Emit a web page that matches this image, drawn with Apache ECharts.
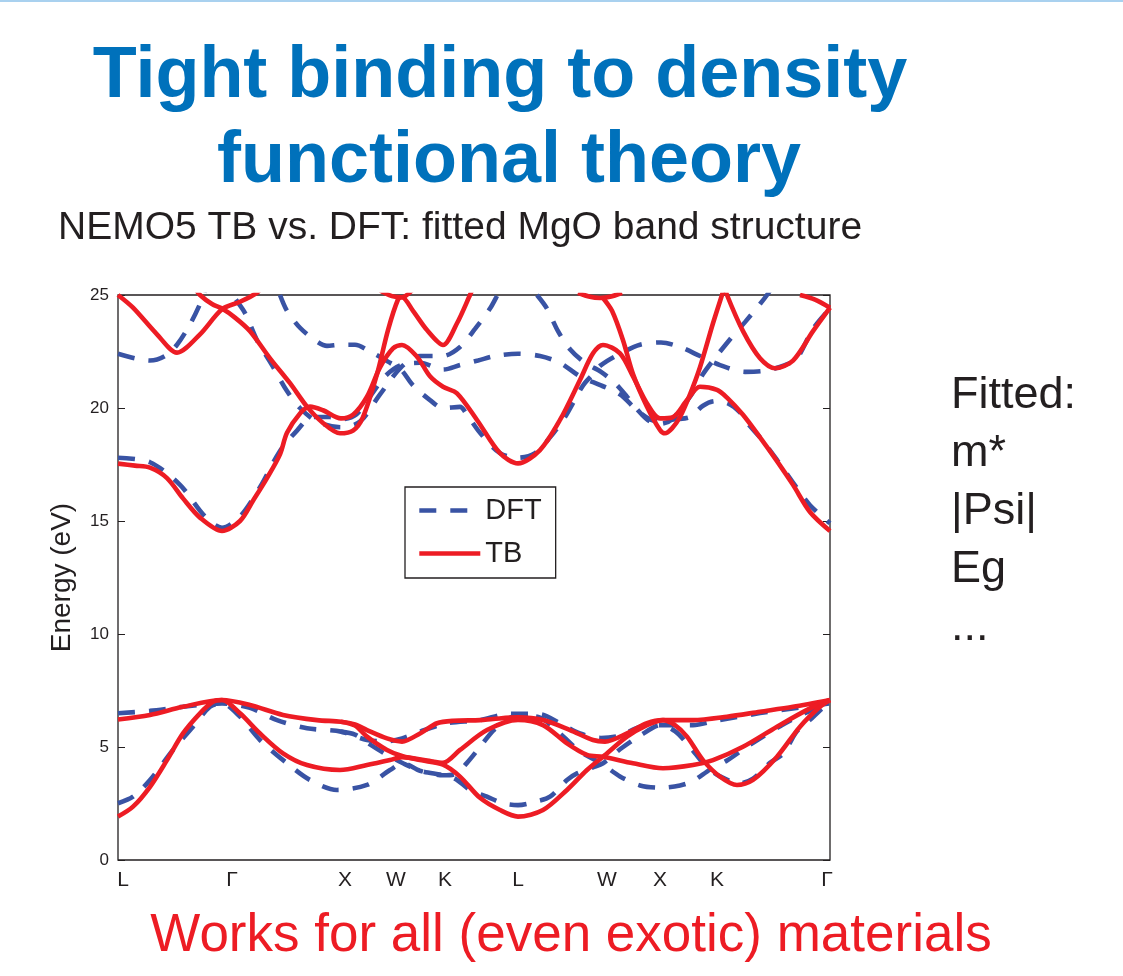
<!DOCTYPE html>
<html><head><meta charset="utf-8">
<script src="https://cdn.jsdelivr.net/npm/echarts@6/dist/echarts.min.js"></script>
<style>html,body{margin:0;padding:0;background:#fff;}#c{width:1123px;height:976px;}</style>
</head><body><div id="c"></div>
<script>
// ---- k-path tick labels (k in path units 0..712) ----
const kLabels = ['L', 'Γ', 'X', 'W', 'K', 'L', 'W', 'X', 'K', 'Γ'];
const kPos = [5, 114, 227, 278, 327, 400, 489, 542, 599, 709];
const kMax = 712;
const yTicks = [0, 5, 10, 15, 20, 25];

// ---- DFT bands (k, E in eV) ----
const dftC1 = [[0,17.8],[32,17.6],[62,16.6],[87,15.2],[104,14.7],[122,15.2],[142,16.5],[162,18.1],[179,19.0],[194,19.6],[212,19.6],[223,19.5],[238,19.7],[252,20.5],[267,21.4],[283,21.9],[302,22.0],[325,21.7],[342,21.9],[360,22.1],[377,22.3],[400,22.4],[422,22.3],[442,22.0],[462,21.4],[483,21.0],[502,20.6],[519,19.9],[532,19.5],[543,19.4],[557,19.5],[572,19.6],[585,20.1],[597,20.3],[610,20.2],[622,19.8],[632,19.2],[642,18.7],[659,17.7],[675,16.7],[692,15.7],[712,14.9]];
const dftC2 = [[162,25.0],[169,24.3],[182,23.55],[197,23.0],[209,22.75],[223,22.8],[237,22.8],[252,22.5],[272,22.0],[283,21.7],[295,21.0],[312,20.35],[325,20.0],[342,20.05],[349,19.7],[362,18.9],[382,18.0],[400,17.8],[417,18.0],[432,18.7],[447,19.6],[465,21.0],[475,21.5],[483,21.9],[502,22.4],[522,22.8],[543,22.9],[562,22.7],[582,22.3],[602,21.9],[627,21.6],[647,21.65],[667,21.9],[679,22.2],[695,23.5],[712,24.4]];
const dftC3 = [[104,26.0],[110,25.6],[115,25.0],[127,24.2],[139,23.0],[154,21.9],[169,20.75],[182,20.0],[199,19.4],[223,19.15],[242,19.4],[262,20.6],[283,21.8],[302,22.3],[325,22.3],[342,22.7],[357,23.5],[372,24.4],[382,25.2],[388,25.6]];
const dftC4 = [[419,25.0],[429,24.4],[440,23.4],[452,22.6],[467,22.0],[483,21.6],[497,21.1],[509,20.5],[522,19.8],[532,19.4],[543,19.3],[554,19.5],[572,20.5],[585,21.5],[595,22.1],[615,23.2],[627,23.8],[642,24.6],[649,25.0],[655,25.4]];
const dftC5 = [[0,22.4],[17,22.2],[32,22.1],[47,22.3],[59,22.8],[72,23.7],[82,24.6],[87,25.2],[90,25.6]];
const dftV1 = [[0,6.49],[32,6.6],[65,6.78],[104,6.93],[132,6.73],[159,6.19],[189,5.83],[223,5.68],[249,5.31],[267,5.25],[284,5.38],[302,5.68],[329,6.05],[362,6.19],[387,6.45],[400,6.47],[422,6.45],[442,6.05],[462,5.6],[483,5.4],[502,5.5],[522,5.9],[543,5.97],[575,5.97],[597,6.15],[642,6.5],[682,6.75],[712,6.93]];
const dftV2 = [[0,2.51],[15,2.8],[32,3.54],[55,4.87],[75,5.9],[92,6.78],[104,6.93],[122,6.34],[142,5.31],[169,4.28],[192,3.54],[219,3.1],[249,3.32],[272,3.98],[285,4.28],[302,3.95],[325,3.75],[337,3.8],[349,4.3],[362,5.0],[377,5.8],[400,6.4],[422,6.3],[442,5.6],[462,4.8],[483,4.28],[502,3.7],[522,3.3],[543,3.2],[562,3.3],[575,3.5],[592,4.0],[609,4.4],[632,5.1],[665,6.0],[692,6.6],[712,6.93]];
const dftV3 = [[223,5.68],[237,5.55],[249,5.2],[267,4.7],[285,4.28],[302,3.95],[325,3.75],[337,3.6],[352,3.1],[369,2.8],[385,2.51],[400,2.43],[419,2.6],[432,2.8],[449,3.54],[459,3.83],[475,4.1],[485,4.28],[502,4.9],[522,5.5],[543,5.97],[557,5.7],[572,5.0],[587,4.2],[602,3.7],[622,3.4],[635,3.6],[652,4.3],[665,4.7],[679,5.7],[692,6.2],[704,6.7],[712,6.93]];

// ---- TB bands (k, E in eV) ----
const tbC1 = [[0,17.54],[17,17.45],[32,17.36],[49,16.9],[65,16.0],[82,15.15],[104,14.56],[122,15.0],[135,15.9],[149,16.9],[162,17.95],[169,18.9],[182,19.76],[192,20.06],[205,19.9],[223,19.54],[235,19.7],[249,20.5],[262,21.8],[275,22.64],[284,22.79],[299,22.27],[312,21.4],[325,20.94],[339,20.65],[359,19.47],[382,18.0],[400,17.55],[422,18.14],[442,19.47],[462,21.24],[475,22.42],[485,22.79],[502,22.42],[515,21.4],[529,20.2],[542,19.54],[555,19.6],[569,20.35],[582,20.94],[599,20.8],[609,20.46],[625,19.7],[642,18.7],[659,17.65],[675,16.6],[692,15.4],[712,14.56]];
const tbC2 = [[77,25.3],[82,25.0],[94,24.6],[104,24.4],[117,24.0],[132,23.4],[152,22.2],[172,21.1],[189,20.06],[205,19.34],[222,18.88],[235,19.0],[245,19.6],[259,21.5],[270,23.45],[280,24.8],[284,24.9],[295,24.3],[309,23.45],[325,22.79],[339,23.75],[352,25.0],[356,25.4]];
const tbC3 = [[0,25.0],[15,24.44],[39,23.26],[59,22.45],[82,23.26],[104,24.37],[122,24.7],[139,25.1],[145,25.4]];
const tbC4 = [[262,25.2],[274,24.95],[284,24.9],[294,25.2]];
const tbC5 = [[460,25.1],[472,24.92],[482,24.87],[492,24.92],[504,25.1]];
const tbC6 = [[485,24.87],[494,24.3],[505,23.0],[515,21.5],[529,20.06],[542,19.03],[547,18.88],[554,19.1],[562,19.6],[572,20.6],[582,21.8],[595,23.75],[604,25.0],[607,25.4]];
const tbC7 = [[605,25.6],[609,25.0],[625,23.4],[642,22.2],[657,21.76],[675,22.1],[695,23.4],[712,24.44]];
const tbC8 = [[682,25.0],[697,24.8],[712,24.44]];
const tbV1 = [[0,6.22],[32,6.42],[65,6.78],[104,7.08],[132,6.86],[165,6.42],[199,6.19],[223,6.12],[237,6.0],[249,5.75],[269,5.38],[284,5.24],[302,5.6],[319,6.05],[335,6.16],[362,6.19],[375,6.24],[400,6.31],[425,6.19],[452,5.75],[475,5.31],[487,5.24],[509,5.6],[529,6.05],[545,6.19],[575,6.19],[609,6.34],[642,6.56],[675,6.78],[712,7.08]];
const tbV2 = [[0,1.92],[15,2.36],[32,3.24],[49,4.42],[65,5.6],[82,6.49],[95,7.0],[104,7.08],[122,6.49],[142,5.6],[165,4.72],[189,4.2],[222,3.98],[249,4.2],[272,4.42],[284,4.55],[309,4.4],[325,4.3],[342,4.87],[369,5.75],[400,6.2],[425,5.97],[449,5.16],[469,4.65],[485,4.57],[515,4.28],[545,4.06],[575,4.2],[595,4.42],[625,5.01],[659,5.9],[692,6.71],[712,7.08]];
const tbV3 = [[223,6.12],[237,5.95],[249,5.46],[269,4.87],[284,4.6],[302,4.42],[325,4.22],[342,3.69],[362,2.75],[382,2.21],[400,1.92],[425,2.21],[449,3.1],[469,3.98],[485,4.57],[509,5.46],[529,5.97],[545,6.19],[557,5.97],[569,5.46],[585,4.42],[602,3.69],[619,3.32],[635,3.54],[659,4.57],[682,5.9],[702,6.78],[712,7.08]];

const dftBands = [dftC1, dftC2, dftC3, dftC4, dftC5, dftV1, dftV2, dftV3];
const tbBands = [tbC1, tbC2, tbC3, tbC4, tbC5, tbC6, tbC7, tbC8, tbV1, tbV2, tbV3];

const FONT = '"Liberation Sans", Arial, Helvetica, sans-serif';
const INK = '#231f20';
const RED = '#ed1c24';
const BLUE = '#3953a4';
const LW = 4.6;

const categories = Array.from({length: kMax + 1}, (_, i) => {
  const j = kPos.indexOf(i);
  return j >= 0 ? kLabels[j] : '';
});

const series = [];
dftBands.forEach(b => series.push({
  type: 'line', name: 'DFT', data: b, symbol: 'none', showSymbol: false, smooth: 0.3,
  silent: true, animation: false,
  lineStyle: {color: BLUE, width: LW, type: [17, 14], cap: 'butt'}, itemStyle: {color: BLUE}
}));
tbBands.forEach(b => series.push({
  type: 'line', name: 'TB', data: b, symbol: 'none', showSymbol: false, smooth: 0.3,
  silent: true, animation: false,
  lineStyle: {color: RED, width: LW}, itemStyle: {color: RED}
}));

function txt(text, x, y, size, color, align, weight) {
  return {type: 'text', x: x, y: y, silent: true,
    style: {text: text, font: (weight || 'normal') + ' ' + size + 'px ' + FONT, fill: color,
      align: align || 'left', textAlign: align || 'left', verticalAlign: 'middle', textVerticalAlign: 'middle'}};
}

const chart = echarts.init(document.getElementById('c'), null, {renderer: 'canvas'});
chart.setOption({
  animation: false,
  backgroundColor: '#fff',
  grid: {left: 118, right: 293, top: 295, bottom: 116, show: true, borderColor: INK, borderWidth: 1.3, backgroundColor: 'rgba(0,0,0,0)'},
  xAxis: {
    type: 'category', data: categories, boundaryGap: false,
    axisLine: {show: false}, axisTick: {show: false}, splitLine: {show: false},
    axisLabel: {interval: (i) => kPos.indexOf(i) >= 0, fontSize: 21, color: INK, fontFamily: FONT, margin: 10}
  },
  yAxis: [{
    type: 'value', min: yTicks[0], max: yTicks[yTicks.length - 1], interval: 5,
    axisLine: {show: false}, splitLine: {show: false},
    axisTick: {show: true, inside: true, length: 7, lineStyle: {color: INK, width: 1}},
    axisLabel: {fontSize: 17, color: INK, fontFamily: FONT, margin: 9},
    name: 'Energy (eV)', nameLocation: 'middle', nameGap: 42,
    nameTextStyle: {fontSize: 28, color: INK, fontFamily: FONT}
  }, {
    type: 'value', position: 'right', min: yTicks[0], max: yTicks[yTicks.length - 1], interval: 5,
    axisLine: {show: false}, splitLine: {show: false},
    axisTick: {show: true, inside: true, length: 7, lineStyle: {color: INK, width: 1}},
    axisLabel: {show: false}
  }],
  legend: {
    data: ['DFT', 'TB'], orient: 'vertical', left: 405, top: 487, selectedMode: false,
    padding: [9, 14, 10, 12], itemGap: 14, itemWidth: 61, itemHeight: 20,
    itemStyle: {opacity: 0},
    lineStyle: {width: LW},
    textStyle: {fontSize: 29, color: INK, fontFamily: FONT},
    backgroundColor: '#fff', borderColor: INK, borderWidth: 1.3, borderRadius: 0
  },
  series: series,
  graphic: [
    {type: 'rect', silent: true, shape: {x: 0, y: 0, width: 1123, height: 2}, style: {fill: '#a9d1ef'}},
    txt('Tight binding to density', 500, 77, 72, '#0071bb', 'center', 'bold'),
    txt('functional theory', 509, 162, 72, '#0071bb', 'center', 'bold'),
    txt('NEMO5 TB vs. DFT: fitted MgO band structure', 58, 228, 39, INK, 'left'),
    txt('Fitted:', 951, 396, 45, INK, 'left'),
    txt('m*', 951, 454, 45, INK, 'left'),
    txt('|Psi|', 951, 512, 45, INK, 'left'),
    txt('Eg', 951, 570, 45, INK, 'left'),
    txt('...', 951, 628, 45, INK, 'left'),
    txt('Works for all (even exotic) materials', 571, 936, 53, RED, 'center')
  ]
});
</script>
</body></html>
